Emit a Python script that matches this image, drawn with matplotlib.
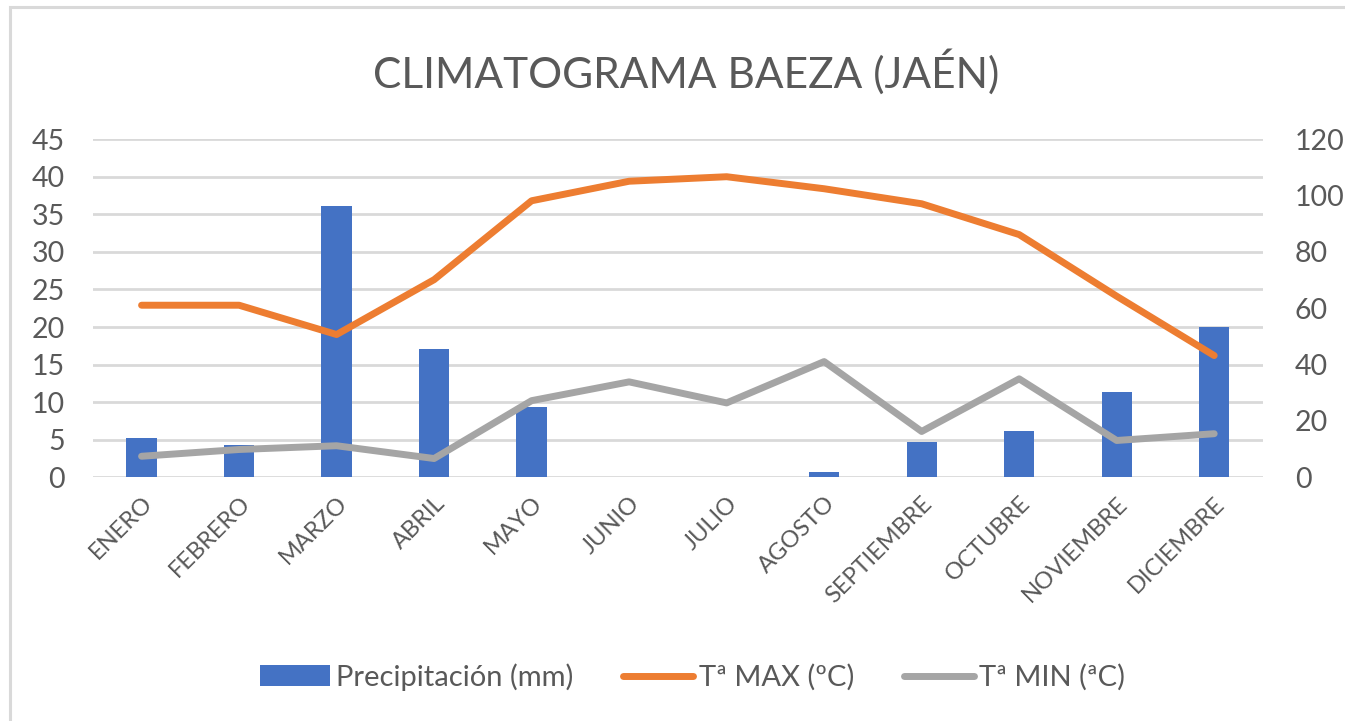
import matplotlib

matplotlib.use("Agg")
import matplotlib.pyplot as plt
from matplotlib.patches import Rectangle

# Data
months = ["ENERO", "FEBRERO", "MARZO", "ABRIL", "MAYO", "JUNIO",
          "JULIO", "AGOSTO", "SEPTIEMBRE", "OCTUBRE", "NOVIEMBRE", "DICIEMBRE"]
precip_mm = [13.8, 11.5, 96.3, 45.4, 24.9, 0.0, 0.0, 1.8, 12.6, 16.3, 30.2, 53.4]
t_max = [22.9, 22.9, 19.0, 26.3, 36.8, 39.4, 40.0, 38.4, 36.4, 32.3, 24.1, 16.2]
t_min = [2.8, 3.7, 4.2, 2.5, 10.2, 12.7, 9.9, 15.4, 6.1, 13.1, 4.9, 5.8]

left_ticks = list(range(0, 50, 5))
right_ticks = list(range(0, 140, 20))

BLUE = "#4472C4"
ORANGE = "#ED7D31"
GREY = "#A5A5A5"
TEXT = "#595959"
GRID = "#D9D9D9"

plt.rcParams["font.family"] = ["Lato", "DejaVu Sans"]

fig = plt.figure(figsize=(13.45, 7.21), dpi=100)
# chart-area frame (right/bottom edges run off the crop, as in the source)
fig.patches.append(
    Rectangle((0.0075, -0.02), 1.05, 1.0105, transform=fig.transFigure,
              facecolor="none", edgecolor="#D9D9D9", linewidth=2.2)
)

rect = (0.069, 0.338, 0.870, 0.469)
x = range(len(months))

# base axes: left scale + gridlines
ax = fig.add_axes(rect)
ax.set_xlim(-0.5, len(months) - 0.5)
ax.set_ylim(0, 45)
ax.set_yticks(left_ticks)
ax.yaxis.grid(True, color=GRID, linewidth=2)
ax.set_axisbelow(True)
ax.set_xticks(list(x))
ax.set_xticklabels(months, rotation=45, ha="right", rotation_mode="anchor",
                   color=TEXT)
ax.tick_params(axis="both", length=0, labelcolor=TEXT)
ax.tick_params(axis="x", labelsize=17, pad=11)
ax.tick_params(axis="y", labelsize=20.5, pad=20)
for s in ax.spines.values():
    s.set_visible(False)

# precipitation bars on the right scale
ax_r = ax.twinx()
ax_r.set_ylim(0, 120)
ax_r.set_yticks(right_ticks)
bars = ax_r.bar(x, precip_mm, width=0.31, color=BLUE)
ax_r.tick_params(axis="y", length=0, labelsize=20.5, labelcolor=TEXT, pad=23)
for s in ax_r.spines.values():
    s.set_visible(False)

# temperature lines on top, sharing the left scale
ax_t = ax.twinx()
ax_t.set_ylim(0, 45)
ax_t.set_yticks([])
for s in ax_t.spines.values():
    s.set_visible(False)
l_max, = ax_t.plot(x, t_max, color=ORANGE, linewidth=5, solid_capstyle="round",
                   solid_joinstyle="round")
l_min, = ax_t.plot(x, t_min, color=GREY, linewidth=5, solid_capstyle="round",
                   solid_joinstyle="round")

fig.text(0.51, 0.90, "CLIMATOGRAMA BAEZA (JAÉN)", ha="center", va="center",
         fontsize=30.5, color=TEXT)

fig.legend([bars, l_max, l_min],
           ["Precipitación (mm)", "Tª MAX (ºC)", "Tª MIN (ªC)"],
           loc="center", bbox_to_anchor=(0.515, 0.061), ncol=3, frameon=False,
           fontsize=21, labelcolor=TEXT, handlelength=2.4, handletextpad=0.2,
           columnspacing=1.7)

fig.savefig("out.png", dpi=100)
